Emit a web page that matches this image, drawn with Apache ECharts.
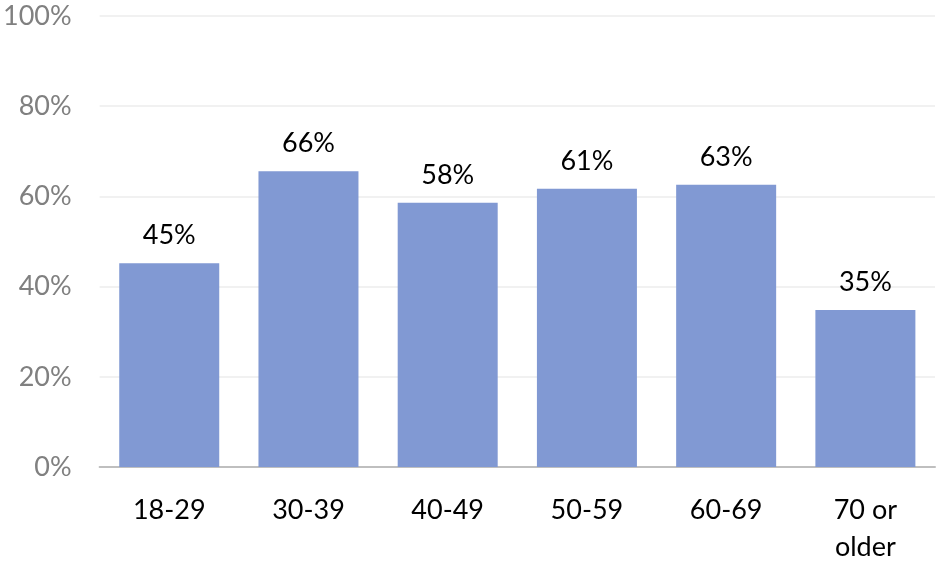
<!DOCTYPE html>
<html><head><meta charset="utf-8">
<script src="https://cdn.jsdelivr.net/npm/echarts@6/dist/echarts.min.js"></script>
<style>html,body{margin:0;padding:0;background:#fff}#c{width:940px;height:566px}</style>
</head><body><div id="c"></div>
<script>
const categories = ['18-29', '30-39', '40-49', '50-59', '60-69', '70 or\nolder'];
const values = [45.2, 65.6, 58.6, 61.7, 62.6, 34.8];
const valueLabels = ['45%', '66%', '58%', '61%', '63%', '35%'];
const yTicks = [0, 20, 40, 60, 80, 100];

const chart = echarts.init(document.getElementById('c'), null, {renderer: 'canvas'});
chart.setOption({
  animation: false,
  grid: {left: 97, right: 5, top: 16, bottom: 95, containLabel: false},
  xAxis: {
    type: 'category',
    data: categories,
    axisLine: {lineStyle: {color: '#bfbfbf', width: 2}},
    axisTick: {show: false},
    axisLabel: {color: '#000', fontSize: 27, fontFamily: 'Lato', margin: 25, lineHeight: 37}
  },
  yAxis: {
    type: 'value', min: 0, max: 100, interval: 20,
    axisLine: {show: false}, axisTick: {show: false},
    splitLine: {lineStyle: {color: '#ececec', width: 1.5}},
    axisLabel: {color: '#808080', fontSize: 27, fontFamily: 'Lato', margin: 28,
      formatter: v => yTicks.includes(v) ? v + '%' : ''}
  },
  series: [{
    type: 'bar',
    data: values,
    barWidth: 100,
    itemStyle: {color: '#8199d3'},
    label: {show: true, position: 'top', distance: 14, color: '#000', fontSize: 27, fontFamily: 'Lato',
      formatter: p => valueLabels[p.dataIndex]}
  }]
});
</script></body></html>
